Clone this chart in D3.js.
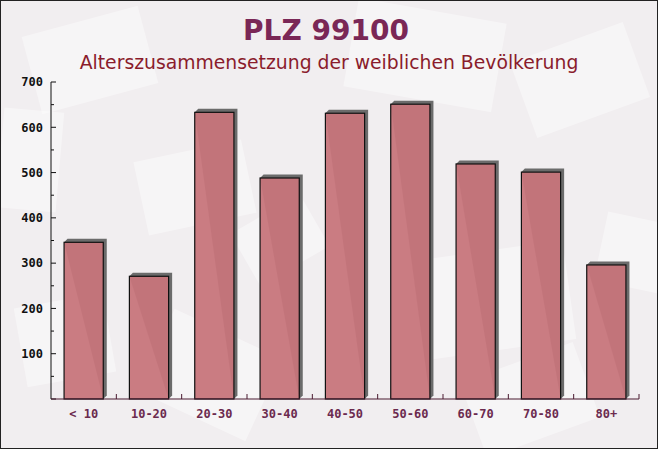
<!DOCTYPE html>
<html><head><meta charset="utf-8">
<script src="https://cdn.jsdelivr.net/npm/d3@7"></script>
<style>body{margin:0;padding:0;background:#fff}svg{display:block}</style>
</head><body>
<script>
const categories = ["< 10","10-20","20-30","30-40","40-50","50-60","60-70","70-80","80+"];
const values = [346, 271, 633, 488, 631, 651, 519, 501, 296];
const yTicks = [100,200,300,400,500,600,700];
const title = "PLZ 99100";
const subtitle = "Alterszusammensetzung der weiblichen Bevölkerung";

const W = 658, H = 449;
const svg = d3.select("body").append("svg").attr("width", W).attr("height", H);

// background
svg.append("rect").attr("x",0).attr("y",0).attr("width",W).attr("height",H).attr("fill","#f1eef0");
const deco = [[30,20,120,80,-15],[350,10,150,90,10],[520,40,120,80,-20],[140,150,110,75,-12],[420,250,150,100,-8],[150,330,120,90,25],[600,220,90,70,12],[240,210,80,60,-30],[20,300,90,80,-10],[470,360,120,80,-20],[0,110,60,100,5]];
deco.forEach(d=>{
  svg.append("rect").attr("x",d[0]).attr("y",d[1]).attr("width",d[2]).attr("height",d[3])
    .attr("transform",`rotate(${d[4]},${d[0]+d[2]/2},${d[1]+d[3]/2})`)
    .attr("fill","#ffffff").attr("opacity",0.4);
});

const x = d3.scaleBand().domain(categories).range([51,639]).paddingInner(0.4).paddingOuter(0.2);
const y = d3.scaleLinear().domain([0,700]).range([399,82]);

// title
svg.append("text").attr("x",326).attr("y",40).attr("text-anchor","middle")
  .attr("font-family","DejaVu Sans").attr("font-weight","bold").attr("font-size",28)
  .attr("fill","#7a2756").text(title);
svg.append("text").attr("x",329).attr("y",69).attr("text-anchor","middle")
  .attr("font-family","DejaVu Sans").attr("font-size",18.8)
  .attr("fill","#8a1c2c").text(subtitle);

// bars with shadow
const dx = 3.5, dy = 3.5;
const g = svg.append("g");
categories.forEach((c,i)=>{
  const x0 = x(c), bw = x.bandwidth(), y0 = y(values[i]), yb = y(0);
  g.append("path")
    .attr("d",`M${x0},${y0} L${x0+dx},${y0-dy} L${x0+bw+dx},${y0-dy} L${x0+bw+dx},${yb-dy} L${x0+bw},${yb} Z`)
    .attr("fill","#5c5c5c").attr("opacity",0.9);
  g.append("rect").attr("x",x0).attr("y",y0).attr("width",bw).attr("height",yb-y0)
    .attr("fill","#c7757b").attr("fill-opacity",0.95).attr("stroke","#111").attr("stroke-width",1.2);
});

// y axis
const yAxis = d3.axisLeft(y).tickValues(yTicks).tickSize(0).tickPadding(8);
const ya = svg.append("g").attr("transform","translate(51,0)").call(yAxis);
ya.select(".domain").remove();
ya.selectAll("text").attr("font-family","DejaVu Sans Mono").attr("font-weight","bold").attr("font-size",12).attr("fill","#111");
svg.append("line").attr("x1",51).attr("x2",51).attr("y1",82).attr("y2",399).attr("stroke","#111");
const minor = d3.range(0,701,50);
svg.selectAll(".ytk").data(minor).enter().append("line")
  .attr("x1",51).attr("x2",d=>d%100===0?56:54).attr("y1",d=>y(d)).attr("y2",d=>y(d)).attr("stroke","#111");

// x axis
const xAxis = d3.axisBottom(x).tickSize(0).tickPadding(10);
const xa = svg.append("g").attr("transform","translate(0,399)").call(xAxis);
xa.select(".domain").remove();
xa.selectAll("text").attr("font-family","DejaVu Sans Mono").attr("font-weight","bold").attr("font-size",12).attr("fill","#6b2a4e");
svg.append("line").attr("x1",51).attr("x2",639).attr("y1",399).attr("y2",399).attr("stroke","#4a1a30");
const bounds = d3.range(1,categories.length+1).map(i=>51+i*(588/categories.length));
svg.selectAll(".xtk").data(bounds).enter().append("line")
  .attr("x1",d=>d).attr("x2",d=>d).attr("y1",399).attr("y2",394).attr("stroke","#4a1a30");

// border
svg.append("rect").attr("x",0.5).attr("y",0.5).attr("width",W-1).attr("height",H-1).attr("fill","none").attr("stroke","#222");
</script>
</body></html>
